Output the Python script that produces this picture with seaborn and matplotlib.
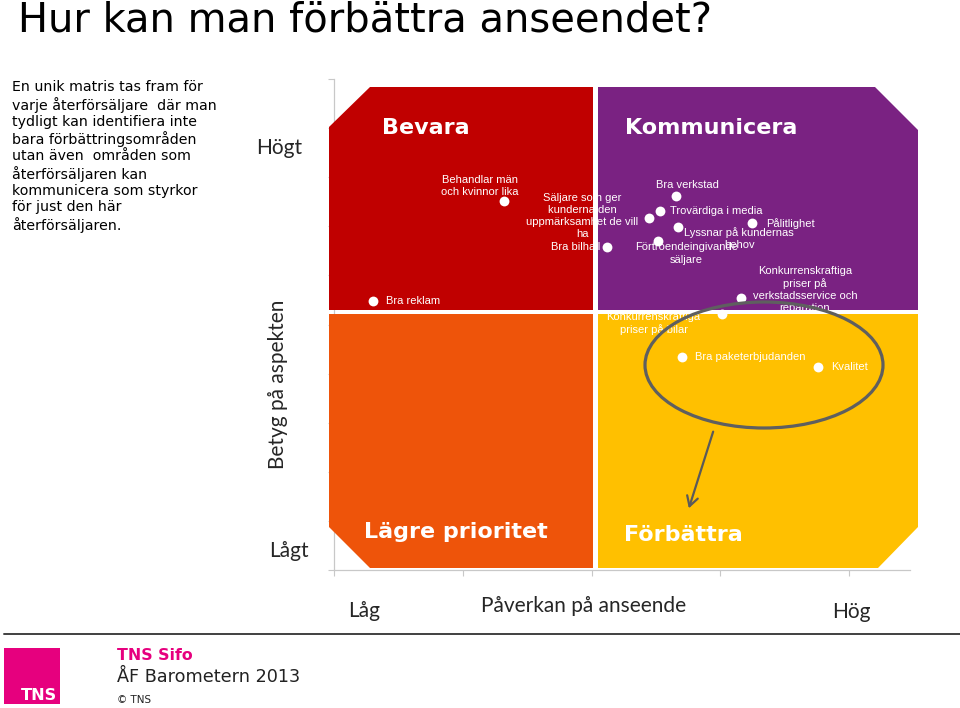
import matplotlib
matplotlib.use("Agg")
import matplotlib.pyplot as plt
import seaborn as sns
import pandas as pd
from matplotlib.patches import Polygon, Ellipse, Rectangle, FancyArrowPatch
from matplotlib.transforms import Affine2D

# ---------------- data ----------------
aspects = [
    "Behandlar män\noch kvinnor lika",
    "Bra reklam",
    "Säljare som ger\nkunderna den\nuppmärksamhet de vill\nha",
    "Bra bilhall",
    "Bra verkstad",
    "Trovärdiga i media",
    "Lyssnar på kundernas\nbehov",
    "Förtroendeingivande\nsäljare",
    "Pålitlighet",
    "Konkurrenskraftiga\npriser på\nverkstadsservice och\nreparation",
    "Konkurrenskraftiga\npriser på bilar",
    "Bra paketerbjudanden",
    "Kvalitet",
]
impact = [1.32, 0.30, 2.45, 2.12, 2.66, 2.53, 2.67, 2.52, 3.25, 3.16, 3.01, 2.70, 3.76]
rating = [7.52, 5.48, 7.17, 6.58, 7.62, 7.31, 6.99, 6.70, 7.07, 5.54, 5.21, 4.34, 4.13]

quadrant_titles = ["Bevara", "Kommunicera", "Lägre prioritet", "Förbättra"]
title = "Hur kan man förbättra anseendet?"
intro = ("En unik matris tas fram för\nvarje återförsäljare  där man\ntydligt kan identifiera inte\n"
         "bara förbättringsområden\nutan även  områden som\nåterförsäljaren kan\n"
         "kommunicera som styrkor\nför just den här\nåterförsäljaren.")
y_title, y_high, y_low = "Betyg på aspekten", "Högt", "Lågt"
x_title, x_low, x_high = "Påverkan på anseende", "Låg", "Hög"

df = pd.DataFrame({"aspekt": aspects, "paverkan": impact, "betyg": rating})

# ---------------- layout / style ----------------
W, H = 960, 708
sns.set_style("white")
plt.rcParams["font.family"] = ["DejaVu Sans"]

fig = plt.figure(figsize=(W / 100, H / 100), dpi=100)
fig.patch.set_facecolor("white")
PX = Affine2D().scale(1 / W, -1 / H).translate(0, 1) + fig.transFigure

ax = fig.add_axes([334 / W, 1 - 570 / H, (910 - 334) / W, (570 - 79) / H])
ax.patch.set_alpha(0)
ax.set_xlim(0, (910 - 334) / 128.75)
ax.set_ylim(0, 10)
ax.set_xticks([0, 1, 2, 3, 4])
ax.set_yticks(list(range(0, 11)))
ax.set_xticklabels([])
ax.set_yticklabels([])
ax.tick_params(bottom=True, left=True, length=4, width=0.8, color="#c8c8c8", direction="out")
for s in ["top", "right"]:
    ax.spines[s].set_visible(False)
for s in ["left", "bottom"]:
    ax.spines[s].set_color("#c8c8c8")
    ax.spines[s].set_linewidth(0.9)

# quadrant backgrounds
RED, PURPLE, ORANGE, YELLOW = "#C00000", "#7A2282", "#EE540A", "#FFC000"
quads = [
    ([(329, 127), (370, 87), (593, 87), (593, 310), (329, 310)], RED),
    ([(598, 87), (875, 87), (918, 130), (918, 310), (598, 310)], PURPLE),
    ([(329, 314), (593, 314), (593, 568), (370, 568), (329, 527)], ORANGE),
    ([(598, 314), (918, 314), (918, 527), (878, 568), (598, 568)], YELLOW),
]
qpatches = []
for pts, col in quads:
    p = Polygon(pts, closed=True, transform=PX, clip_on=False,
                facecolor=col, edgecolor="none", zorder=3)
    ax.add_patch(p)
    qpatches.append(p)

qpos = [(425.5, 128), (711.5, 128), (456, 532), (683.5, 535)]
for (qx, qy), t in zip(qpos, quadrant_titles):
    ax.text(qx, qy, t, transform=PX, ha="center", va="center", color="white",
            fontsize=16, fontweight="bold", family="DejaVu Sans", zorder=6, clip_on=False)

# points
sns.scatterplot(data=df, x="paverkan", y="betyg", ax=ax, color="white", s=50,
                edgecolor="white", linewidth=0, zorder=6.5, clip_on=False, legend=False)
ax.set_xlabel("")
ax.set_ylabel("")

offsets = [(-24, 14.5, "center"), (13, 0, "left"), (-67, 2, "center"), (-7, 0, "right"),
           (11, 11, "center"), (10, 0, "left"), (61.5, -11.5, "center"), (28, -12.5, "center"),
           (14, -1, "left"), (64, 8.5, "center"), (-68, -9.5, "center"), (13, 0, "left"),
           (13, 0, "left")]
for i, ((lab, xv, yv), (dx, dy, ha)) in enumerate(zip(zip(aspects, impact, rating), offsets)):
    ann = ax.annotate(lab, (xv, yv), xytext=(dx, dy), textcoords="offset pixels",
                      ha=ha, va="center", multialignment="center", color="white",
                      fontsize=8, family="Liberation Sans", zorder=6, linespacing=1.28,
                      annotation_clip=False)
    if i == 9:  # the last line of this label is hidden under the lower quadrant
        ann.set_clip_on(True)
        ann.set_clip_path(qpatches[1])

# ellipse + arrow
ax.add_patch(Ellipse((764, 365), 238, 126, transform=PX, clip_on=False, fill=False,
                     edgecolor="#5f5f5f", linewidth=2.3, zorder=7))
ax.add_patch(FancyArrowPatch((714, 429), (688, 511), transform=PX, clip_on=False,
                             arrowstyle="->,head_length=7,head_width=4", color="#5a5a5a",
                             linewidth=1.6, zorder=7))

# ---------------- slide texts ----------------
fig.text(18, 32, title, transform=PX, ha="left", va="baseline", fontsize=28.8, color="black")
fig.text(12, 80, intro, transform=PX, ha="left", va="top", fontsize=10.2, linespacing=1.2,
         color="black")

lato = ["Lato", "DejaVu Sans"]
fig.text(279, 148, y_high, transform=PX, ha="center", va="center", fontsize=15, family=lato)
fig.text(289, 551, y_low, transform=PX, ha="center", va="center", fontsize=15, family=lato)
fig.text(278, 384, y_title, transform=PX, ha="center", va="center", fontsize=15,
         family=lato, rotation=90)
fig.text(364.5, 611, x_low, transform=PX, ha="center", va="center", fontsize=15, family=lato)
fig.text(584, 606, x_title, transform=PX, ha="center", va="center", fontsize=15, family=lato)
fig.text(851, 612, x_high, transform=PX, ha="center", va="center", fontsize=15, family=lato)

# footer
fig.add_artist(plt.Line2D([4, 960], [634, 634], transform=PX, color="#404040", linewidth=1.4))
fig.add_artist(Rectangle((4, 648), 56, 56, transform=PX, facecolor="#E6007E", edgecolor="none"))
fig.text(57, 700, "TNS", transform=PX, ha="right", va="baseline", fontsize=11.6,
         fontweight="bold", color="white")
fig.text(117, 655, "TNS Sifo", transform=PX, ha="left", va="center", fontsize=11.3,
         fontweight="bold", color="#E6007E")
fig.text(117, 677, "ÅF Barometern 2013", transform=PX, ha="left", va="center", fontsize=12.7,
         color="#222222")
fig.text(117, 700, "© TNS", transform=PX, ha="left", va="center", fontsize=7.5, color="#222222")

fig.savefig("out.png", dpi=100, facecolor="white")
